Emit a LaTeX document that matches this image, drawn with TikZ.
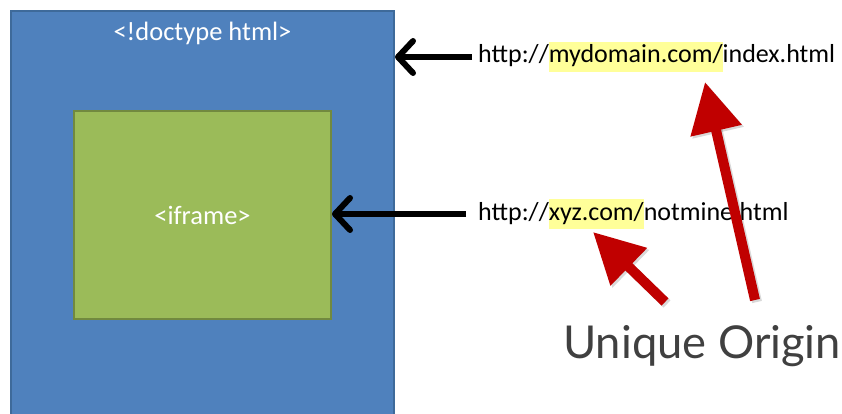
\documentclass[tikz,border=0pt]{standalone}
\usepackage{fontspec}
\setmainfont{Carlito}
\newfontfamily\labelfont{Lato}
\usetikzlibrary{positioning,arrows.meta}

\definecolor{docblue}{HTML}{4F81BD}
\definecolor{docedge}{HTML}{3E6A9A}
\definecolor{framegreen}{HTML}{9BBB59}
\definecolor{frameedge}{HTML}{71893F}
\definecolor{hilite}{HTML}{FFFF99}
\definecolor{origred}{HTML}{C00000}
\definecolor{labelgray}{HTML}{404040}

\newcommand{\hl}[1]{{\setlength{\fboxsep}{0pt}\colorbox{hilite}{\strut#1}}}

\tikzset{
	docbox/.style={draw=docedge, line width=2pt, fill=docblue, inner sep=0pt},
	framebox/.style={draw=frameedge, line width=2pt, fill=framegreen, text=white, font=\fontsize{26.5}{30}\selectfont},
	url/.style={inner sep=0pt, font=\fontsize{26}{30}\selectfont},
	pointer/.style={line width=6pt, -{Straight Barb[length=15pt,width=32pt,round]}},
	origin/.style={origred, line width=10pt, -{Triangle[length=50pt,width=50pt]}}
}

\begin{document}
\begin{tikzpicture}[x=1pt,y=-1pt]
	\useasboundingbox (0,0) rectangle (842,414);
	\clip (0,0) rectangle (842,414);

	\node[docbox, minimum width=383pt, minimum height=420pt, anchor=north west] (doc) at (10,10) {};
	\node[text=white, font=\fontsize{26.5}{30}\selectfont, below=9pt of doc.north] (doctype) {<!doctype html>};
	\node[framebox, minimum width=257pt, minimum height=208pt, anchor=north west] (iframe) at (73,110) {<iframe>};

	\node[url, anchor=west] (mine) at (478,57) {http://\hl{mydomain.com/}index.html};
	\node[url, anchor=west] (other) at (478,214) {http://\hl{xyz.com/}notmine.html};

	\draw[pointer] ([xshift=-6pt]mine.west) -- (doc.east |- mine.west);
	\draw[pointer] ([xshift=-12pt]other.west) -- (iframe.east |- other.west);

	\node[labelgray, font=\labelfont\fontsize{45.3}{50}\selectfont, anchor=base west, inner sep=0pt] (unique) at (563,358) {Unique Origin};

	\coordinate (tailA) at (755,300);
	\coordinate (tipA) at (705,82);
	\coordinate (tailB) at (665,302);
	\coordinate (tipB) at (593,232);

	\begin{scope}[transform canvas={xshift=2pt,yshift=-2pt}]
		\draw[origin, black, opacity=.15] (tailA) -- (tipA);
		\draw[origin, black, opacity=.15] (tailB) -- (tipB);
	\end{scope}
	\draw[origin] (tailA) -- (tipA);
	\draw[origin] (tailB) -- (tipB);
\end{tikzpicture}
\end{document}
